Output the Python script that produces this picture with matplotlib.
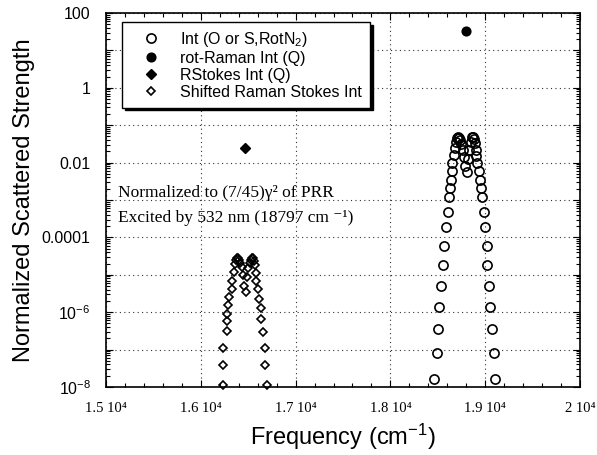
#!/usr/bin/env python3
"""
plot.py -- normalized scattered strength of the N2 rotational / vibrational
Raman lines (excitation at 532 nm), log scale vs frequency.
"""
import matplotlib as mpl
mpl.use("Agg")
import matplotlib.pyplot as plt
from matplotlib.ticker import FixedLocator, MultipleLocator, FuncFormatter, LogLocator, NullFormatter

mpl.rcParams.update({
    "font.family": "sans-serif",
    "font.sans-serif": ["Liberation Sans", "DejaVu Sans"],
    "mathtext.fontset": "custom",
    "mathtext.rm": "Liberation Sans",
    "mathtext.it": "Liberation Sans:italic",
    "mathtext.bf": "Liberation Sans:bold",
    "axes.linewidth": 1.2,
})

SERIF = ["Liberation Serif", "DejaVu Serif"]

# open circles: O / S branch rotational Raman lines around the laser line
ROT_FREQ = [18785, 18773, 18761, 18749, 18737, 18725, 18713, 18701, 18689, 18677,
            18667, 18655, 18645, 18634, 18624, 18613, 18603, 18582, 18561, 18550,
            18529, 18508, 18497, 18487, 18455,
            18809, 18821, 18833, 18845, 18857, 18869, 18881, 18893, 18901, 18905,
            18909, 18930, 18940, 18951, 18962, 18983, 18993, 19014, 19020, 19035,
            19046, 19067, 19088, 19099]
ROT_INT = [7.9e-3, 1.4e-2, 2.2e-2, 3.2e-2, 4.0e-2, 4.6e-2, 4.9e-2, 4.6e-2, 3.5e-2, 2.4e-2,
           1.6e-2, 1.0e-2, 5.8e-3, 3.5e-3, 2.1e-3, 1.2e-3, 4.7e-4, 1.9e-4, 5.8e-5, 1.8e-5,
           4.9e-6, 1.35e-6, 3.5e-7, 8.1e-8, 1.6e-8,
           5.6e-3, 1.26e-2, 2.2e-2, 3.5e-2, 4.7e-2, 4.9e-2, 4.4e-2, 3.3e-2, 2.2e-2, 1.5e-2,
           1.0e-2, 5.8e-3, 3.5e-3, 2.1e-3, 1.2e-3, 4.7e-4, 1.9e-4, 5.8e-5, 1.8e-5, 4.9e-6,
           1.35e-6, 3.5e-7, 8.1e-8, 1.6e-8]

# filled circle: rotational Raman Q (laser line)
Q_FREQ = [18797]
Q_INT = [33.0]

# filled diamond: vibrational Raman Stokes Q
RS_FREQ = [16466]
RS_INT = [0.025]

# open diamonds: rotational structure shifted to the Stokes line
SH_FREQ = [16454, 16442, 16430, 16418, 16406, 16394, 16382, 16370, 16358, 16346,
           16334, 16324, 16302, 16292, 16281, 16281, 16271, 16239, 16229, 16229,
           16478, 16490, 16502, 16514, 16526, 16538, 16550, 16562, 16574, 16582,
           16587, 16598, 16619, 16630, 16640, 16651, 16672, 16682, 16703]
SH_INT = [4.9e-6, 1.0e-5, 1.6e-5, 2.1e-5, 2.5e-5, 2.75e-5, 2.8e-5, 2.5e-5, 1.9e-5, 1.2e-5,
          6.8e-6, 4.1e-6, 2.5e-6, 1.55e-6, 8.9e-7, 5.8e-7, 3.1e-7, 1.1e-7, 3.9e-8, 1.1e-8,
          3.4e-6, 8.9e-6, 1.5e-5, 2.1e-5, 2.5e-5, 2.75e-5, 2.75e-5, 2.4e-5, 1.8e-5, 1.1e-5,
          6.8e-6, 4.1e-6, 2.3e-6, 1.3e-6, 6.5e-7, 3.0e-7, 1.1e-7, 3.9e-8, 1.1e-8]

X_TICKS = [15000, 16000, 17000, 18000, 19000, 20000]
Y_TICKS = [1e2, 1e1, 1e0, 1e-1, 1e-2, 1e-3, 1e-4, 1e-5, 1e-6, 1e-7, 1e-8]
Y_LABELS = {1e2: "100", 1e0: "1", 1e-2: "0.01", 1e-4: "0.0001",
            1e-6: "$10^{-6}$", 1e-8: "$10^{-8}$"}


def xfmt(v, pos):
    return f"{v / 1e4:g} 10\u2074"


def yfmt(v, pos):
    for k, s in Y_LABELS.items():
        if abs(v / k - 1) < 1e-6:
            return s
    return ""


def main():
    fig = plt.figure(figsize=(5.97, 4.55), dpi=100)
    ax = fig.add_axes([0.1776, 0.1495, 0.7939, 0.822])

    ax.set_yscale("log")
    ax.set_xlim(15000, 20000)
    ax.set_ylim(1e-8, 1e2)

    ax.plot(ROT_FREQ, ROT_INT, "o", ms=6.6, mfc="none", mec="black", mew=1.2,
            label="Int (O or S,RotN$_2$)", clip_on=False, zorder=3)
    ax.plot(Q_FREQ, Q_INT, "o", ms=6.3, color="black",
            label="rot-Raman Int (Q)", zorder=3)
    ax.plot(RS_FREQ, RS_INT, "D", ms=5.6, color="black",
            label="RStokes Int (Q)", zorder=3)
    ax.plot(SH_FREQ, SH_INT, "D", ms=4.2, mfc="none", mec="black", mew=1.2,
            label="Shifted Raman Stokes Int", clip_on=False, zorder=3)

    ax.xaxis.set_major_locator(FixedLocator(X_TICKS))
    ax.xaxis.set_minor_locator(MultipleLocator(200))
    ax.xaxis.set_major_formatter(FuncFormatter(xfmt))
    ax.yaxis.set_major_locator(FixedLocator(Y_TICKS))
    ax.yaxis.set_minor_locator(LogLocator(base=10, subs=range(2, 10), numticks=20))
    ax.yaxis.set_major_formatter(FuncFormatter(yfmt))
    ax.yaxis.set_minor_formatter(NullFormatter())

    ax.tick_params(which="both", direction="in", top=True, right=True, width=0.8)
    ax.tick_params(which="major", length=5)
    ax.tick_params(which="minor", length=2.8)
    ax.tick_params(axis="x", pad=11, labelsize=10.5)
    ax.tick_params(axis="y", pad=11, labelsize=11.5)
    for t in ax.get_xticklabels():
        t.set_family(SERIF)

    ax.grid(True, which="major", linestyle=(0, (1, 3)), color="#333333", linewidth=0.8)
    ax.set_axisbelow(True)

    ax.set_xlabel("Frequency (cm$^{-1}$)", fontsize=17, labelpad=5)
    ax.set_ylabel("Normalized Scattered Strength", fontsize=17, labelpad=5)

    ax.text(0.025, 0.519, "Normalized to (7/45)\u03b3\u00b2 of PRR", transform=ax.transAxes,
            family=SERIF, fontsize=12.5, ha="left", va="center", zorder=4)
    ax.text(0.025, 0.452, "Excited by 532 nm (18797 cm \u207b\u00b9)", transform=ax.transAxes,
            family=SERIF, fontsize=12.5, ha="left", va="center", zorder=4)

    leg = ax.legend(loc="upper left", bbox_to_anchor=(0.034, 0.976), borderaxespad=0,
                    fontsize=11.5, frameon=True, fancybox=False, edgecolor="black",
                    framealpha=1, handlelength=2.6, handletextpad=0.55, borderpad=0.5,
                    labelspacing=0.12, numpoints=1,
                    shadow={"color": "black", "alpha": 1})
    leg.get_frame().set_linewidth(1.0)
    leg.set_zorder(5)

    fig.savefig("out.png", dpi=100)


if __name__ == "__main__":
    main()
